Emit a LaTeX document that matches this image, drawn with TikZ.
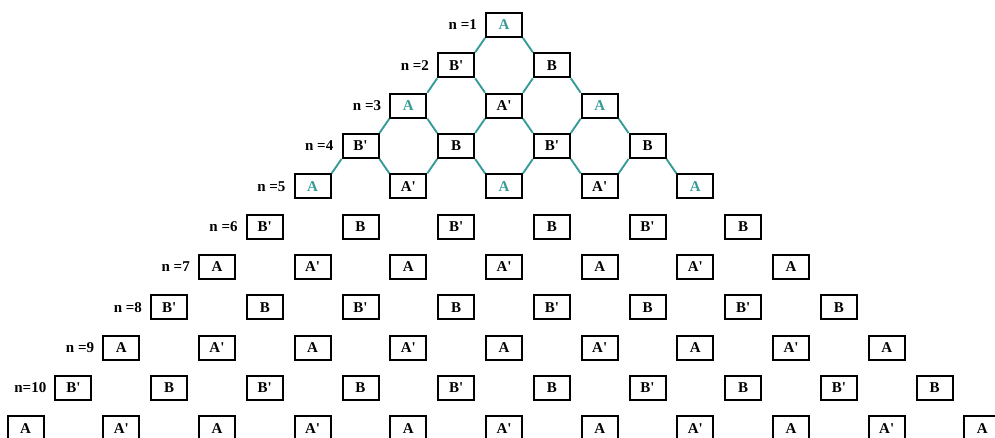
\documentclass[tikz,border=0pt]{standalone}
\usepackage{fontspec}
\setmainfont{Liberation Serif}
\usepackage{tikz}
\usetikzlibrary{calc,positioning}
\definecolor{hexteal}{RGB}{55,155,152}

\begin{document}
\begin{tikzpicture}[x=1pt,y=-1pt]
	\tikzstyle{cell}=[draw, line width=2pt, minimum width=36pt, minimum height=24pt, inner sep=0pt, font=\fontsize{15}{17}\selectfont\bfseries]
	\tikzstyle{rowlab}=[inner sep=0pt, font=\fontsize{15}{17}\selectfont\bfseries]
	\tikzstyle{link}=[hexteal, line width=1.9pt]

	\useasboundingbox (0,0) rectangle (995,437);

	\foreach \n in {1,...,11}
		\foreach \k in {1,...,\n}
		{
			\pgfmathsetmacro{\cx}{504+(\k-(\n+1)/2)*95.67}
			\pgfmathsetmacro{\cy}{25+(\n-1)*40.33}
			\def\tc{black}
			\ifodd\n
				\def\txt{A}
				\ifodd\k \ifnum\n<6 \def\tc{hexteal}\fi \else \def\txt{A\textquotesingle}\fi
			\else
				\ifodd\k \def\txt{B\textquotesingle}\else \def\txt{B}\fi
			\fi
			\node (c\n-\k) [cell, text=\tc] at (\cx,\cy) {\txt};
		}

	\foreach \n in {1,...,9}
		\node (lab\n) [rowlab, left=8pt of c\n-1] {n =\n};
	\node (lab10) [rowlab, left=8pt of c10-1] {n=10};

	\foreach \n in {1,...,4}
		\foreach \k in {1,...,\n}
		{
			\pgfmathtruncatemacro{\m}{\n+1}
			\pgfmathtruncatemacro{\j}{\k+1}
			\draw [link] (c\n-\k.south west) -- (c\m-\k.north east);
			\draw [link] (c\n-\k.south east) -- (c\m-\j.north west);
		}
\end{tikzpicture}
\end{document}
